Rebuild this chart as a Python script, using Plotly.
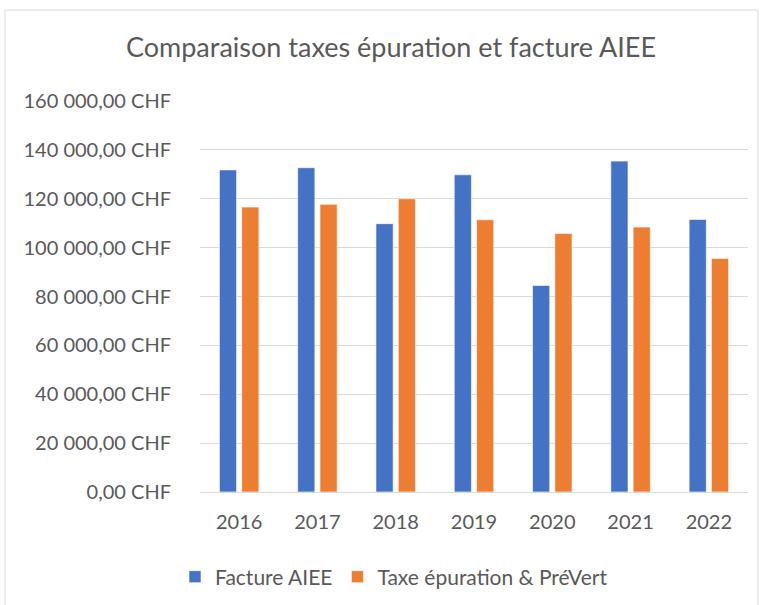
import plotly.graph_objects as go

years = ["2016", "2017", "2018", "2019", "2020", "2021", "2022"]
facture_aiee = [131800, 132700, 109800, 129800, 84500, 135400, 111500]
taxe_epuration = [116600, 117700, 120000, 111400, 105800, 108400, 95600]
y_tick_vals = [0, 20000, 40000, 60000, 80000, 100000, 120000, 140000, 160000]
y_tick_text = ["0,00 CHF", "20 000,00 CHF", "40 000,00 CHF", "60 000,00 CHF",
               "80 000,00 CHF", "100 000,00 CHF", "120 000,00 CHF",
               "140 000,00 CHF", "160 000,00 CHF"]

W, H = 764, 605
L, R, T, B = 200, 16, 101, 113
pw, ph = W - L - R, H - T - B

font = "Lato, 'Open Sans', sans-serif"
txt = "#595959"

fig = go.Figure()
fig.add_trace(go.Bar(x=years, y=facture_aiee, name="Facture AIEE",
                     marker=dict(color="#4472C4", line=dict(color="white", width=0.6))))
fig.add_trace(go.Bar(x=years, y=taxe_epuration, name="Taxe épuration & PréVert",
                     marker=dict(color="#ED7D31", line=dict(color="white", width=0.6))))

fig.update_layout(
    width=W, height=H,
    margin=dict(l=L, r=R, t=T, b=B, autoexpand=False),
    paper_bgcolor="white", plot_bgcolor="white",
    font=dict(family=font, color=txt, size=20),
    title=dict(text="Comparaison taxes épuration et facture AIEE",
               x=391 / W, xanchor="center", y=1 - 48 / H, yanchor="middle",
               font=dict(size=27, color=txt, family=font)),
    barmode="group", bargap=0.43, bargroupgap=0.23,
    showlegend=True,
    legend=dict(orientation="h", x=(394 - L) / pw, xanchor="center",
                y=-(577 - (T + ph)) / ph, yanchor="middle",
                font=dict(size=21, color=txt), traceorder="normal",
                itemwidth=30),
    xaxis=dict(showgrid=False, showline=True, linecolor="#D9D9D9", linewidth=1,
               automargin=False,
               ticks="", tickfont=dict(size=20, color=txt), ticklabelstandoff=12),
    yaxis=dict(range=[0, 160000], tickvals=y_tick_vals, ticktext=y_tick_text,
               automargin=False,
               showgrid=True, gridcolor="#D9D9D9", gridwidth=1,
               zeroline=True, zerolinecolor="#D9D9D9", zerolinewidth=1,
               showline=False, ticks="", tickfont=dict(size=20, color=txt),
               ticklabelstandoff=28),
)

fig.add_shape(type="rect", xref="paper", yref="paper",
              x0=(5 - L) / pw, x1=(758 - L) / pw,
              y0=-(H + 10 - T - ph) / ph, y1=(T + ph - 10) / ph,
              line=dict(color="#D9D9D9", width=1), fillcolor="rgba(0,0,0,0)",
              layer="below")

fig.write_html("out.html", config={"displayModeBar": False},
               post_script="document.body.style.margin='0';document.body.style.overflow='hidden';")
